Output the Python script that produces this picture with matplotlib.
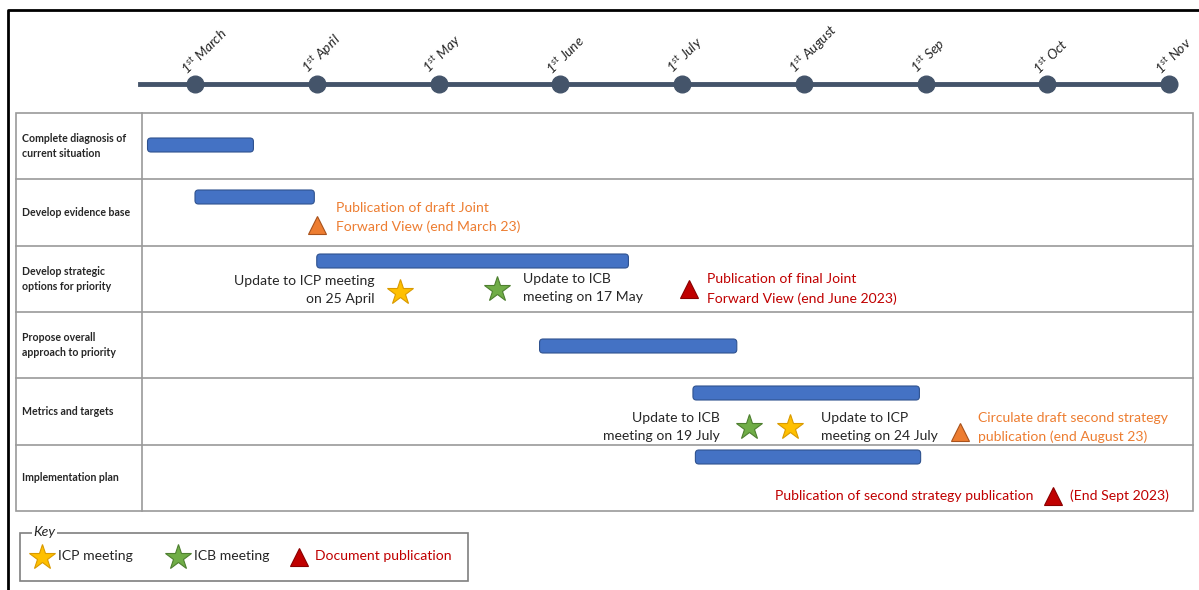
import matplotlib
matplotlib.use("Agg")
import matplotlib.pyplot as plt
from matplotlib.patches import FancyBboxPatch, Rectangle

plt.rcParams['font.family'] = ['Lato', 'DejaVu Sans']
plt.rcParams['mathtext.fontset'] = 'custom'
plt.rcParams['mathtext.rm'] = 'Lato:italic'
plt.rcParams['mathtext.it'] = 'Lato:italic'

# ---- data (x in months after 1st March) ----
month_labels = ["March", "April", "May", "June", "July", "August", "Sep", "Oct", "Nov"]
tasks = ["Complete diagnosis of\ncurrent situation", "Develop evidence base",
         "Develop strategic\noptions for priority", "Propose overall\napproach to priority",
         "Metrics and targets", "Implementation plan"]
bar_start = [-0.39, 0.0, 1.0, 2.83, 4.09, 4.11]
bar_end = [0.48, 0.98, 3.56, 4.45, 5.95, 5.96]

# milestones
ms_x = [1.0, 1.68, 2.48, 4.06, 4.55, 4.89, 6.28, 7.05]
ms_row = [1, 2, 2, 2, 4, 4, 4, 5]
ms_kind = ["draft", "icp", "icb", "pub", "icb", "icp", "draft", "pub"]
ms_text = ["Publication of draft Joint\nForward View (end March 23)",
           "Update to ICP meeting\non 25 April",
           "Update to ICB\nmeeting on 17 May",
           "Publication of final Joint\nForward View (end June 2023)",
           "Update to ICB\nmeeting on 19 July",
           "Update to ICP\nmeeting on 24 July",
           "Circulate draft second strategy\npublication (end August 23)",
           "Publication of second strategy publication"]
extra_text = "(End Sept 2023)"

# ---- layout / styles (pixels) ----
PX = 121.75          # pixels per month
X0 = 195.0           # pixel of 1st March
W, H = 1199, 590
bar_dy = [32, 17.7, 15.4, 34.1, 14.8, 12.5]        # bar centre below row top
ms_dy = [45.7, 46.4, 43.4, 43.4, 48.8, 48.8, 53.8, 51.5]  # marker below row top
txt_dy = [-7.5, -2, -1, 0, 0, 0, -4.5, -0.5]        # text centre relative to marker
txt_dx = [19, -25, 26, 18, -29, 31, 18, -20]        # text anchor relative to marker

styles = {
    "icp": dict(marker="*", color="#FFC000", mec="#D99A00", ms=19),
    "icb": dict(marker="*", color="#70AD47", mec="#4E7F30", ms=19),
    "pub": dict(marker="^", color="#C00000", mec="#8A0000", ms=13),
    "draft": dict(marker="^", color="#ED7D31", mec="#A8521C", ms=13),
}
text_color = {"icp": "#262626", "icb": "#262626", "pub": "#C00000", "draft": "#ED7D31"}
FS = 10.1

fig = plt.figure(figsize=(W / 100, H / 100), dpi=100)
ax = fig.add_axes([0, 0, 1, 1])
ax.set_xlim(-X0 / PX, (W - X0) / PX)
ax.set_ylim(H, 0)
ax.axis("off")

def m(px):
    return (px - X0) / PX

def dm(px):
    return px / PX

# outer frame
ax.plot([m(8), m(8), m(W)], [H, 10, 10], color="black", lw=2, solid_capstyle="butt")

# timeline
ax.plot([m(140), m(1175)], [84, 84], color="#44546A", lw=3.5, zorder=2)
months = list(range(len(month_labels)))
ax.plot(months, [84] * len(months), "o", color="#44546A", ms=12, zorder=3)
for i, lab in enumerate(month_labels):
    ax.text(i - dm(6), 77, r"1$^{st}$ " + lab, rotation=45, rotation_mode="anchor",
            ha="left", va="bottom", fontsize=10, style="italic", color="#262626")

# table
top, rh = 113, 66.3
nrows = len(tasks)
grid = "#9A9A9A"
ax.add_patch(Rectangle((m(16), top), m(1193) - m(16), rh * nrows, fill=False,
                       ec=grid, lw=1.2))
for r in range(1, nrows):
    ax.plot([m(16), m(1193)], [top + r * rh] * 2, color=grid, lw=1.2)
ax.plot([m(142), m(142)], [top, top + rh * nrows], color=grid, lw=1.2)
for r, t in enumerate(tasks):
    ax.text(m(22), top + (r + 0.5) * rh, t, fontsize=7.6, fontweight="bold",
            va="center", ha="left", color="#262626", linespacing=1.45)

# bars
bh = 14
for r, (s, e) in enumerate(zip(bar_start, bar_end)):
    yc = top + r * rh + bar_dy[r]
    ax.add_patch(FancyBboxPatch((s, yc - bh / 2), e - s, bh,
                                boxstyle="round,pad=0,rounding_size=%f" % (3.5 / PX),
                                mutation_aspect=PX, fc="#4472C4", ec="#2F528F", lw=0.8,
                                zorder=3))

# milestones
for i, (x, r, k, t) in enumerate(zip(ms_x, ms_row, ms_kind, ms_text)):
    yc = top + r * rh + ms_dy[i]
    st = styles[k]
    ax.plot([x], [yc], linestyle="none", marker=st["marker"], color=st["color"],
            mec=st["mec"], mew=0.8, ms=st["ms"], zorder=4)
    ha = "left" if txt_dx[i] > 0 else "right"
    ax.text(x + dm(txt_dx[i]), yc + txt_dy[i], t, ha=ha, va="center", fontsize=FS,
            color=text_color[k], linespacing=1.62)
    if t.startswith("Publication of second"):
        ax.text(x + dm(17), yc + txt_dy[i], extra_text, ha="left", va="center",
                fontsize=FS, color=text_color[k])

# key box
ax.add_patch(Rectangle((m(20), 533), m(468) - m(20), 48, fill=False, ec="#7F7F7F", lw=1.2))
ax.text(m(33), 532, "Key", fontsize=FS, style="italic", va="center", ha="left",
        color="#262626", bbox=dict(fc="white", ec="none", pad=1))
key_items = [("icp", "ICP meeting", 42), ("icb", "ICB meeting", 178),
             ("pub", "Document publication", 299)]
for k, lab, px in key_items:
    st = styles[k]
    ax.plot([m(px)], [557], linestyle="none", marker=st["marker"], color=st["color"],
            mec=st["mec"], mew=0.8, ms=st["ms"])
    ax.text(m(px + 16), 556, lab, fontsize=FS, va="center", ha="left",
            color=text_color[k])

fig.savefig("out.png", dpi=100)
